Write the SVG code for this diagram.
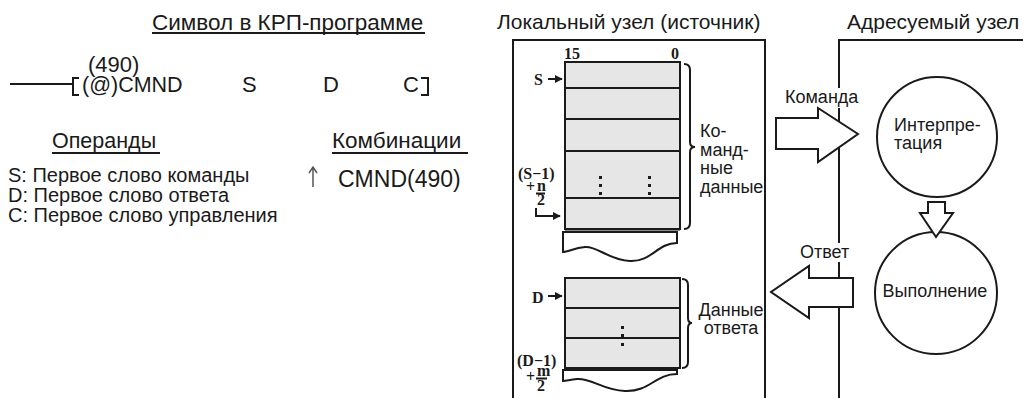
<svg xmlns="http://www.w3.org/2000/svg" width="1023" height="398" viewBox="0 0 1023 398">
<style>
.t{font-family:"Liberation Sans",Arial,sans-serif;fill:#1a1a1a}
.h{font-size:21px}
.m{font-size:20px}
.s{font-size:18px}
.sf{font-family:"Liberation Serif","Times New Roman",serif;font-weight:bold;fill:#1a1a1a;font-size:16px}
.ln{stroke:#1a1a1a;stroke-width:2;fill:none}
.cell{fill:#e6e6e6;stroke:#1a1a1a;stroke-width:2}
.torn{fill:#fff;stroke:#1a1a1a;stroke-width:2}
.blk{fill:#fff;stroke:#1a1a1a;stroke-width:2;stroke-linejoin:miter}
.dot{fill:#1a1a1a}
</style>
<defs>
<marker id="ah" viewBox="0 0 10 10" refX="9" refY="5" markerWidth="4" markerHeight="4" orient="auto" markerUnits="strokeWidth">
<path d="M0,0 L10,5 L0,10 Z" fill="#1a1a1a"/>
</marker>
</defs>
<rect width="1023" height="398" fill="#fff"/>

<g id="ladder-symbol">
<text class="t" font-size="22.5" x="152" y="30">Символ в КРП-программе</text>
<line class="ln" x1="152" y1="33" x2="425" y2="33" stroke-width="1.5"/>
<text class="t" font-size="22" x="88" y="72">(490)</text>
<line class="ln" x1="10" y1="84" x2="72" y2="84"/>
<path class="ln" d="M79,78 H73 V95 H79" stroke-width="2.5"/>
<text class="t" font-size="21.5" x="82" y="92">(@)CMND</text>
<text class="t" font-size="22" x="242" y="92">S</text>
<text class="t" font-size="22" x="323" y="92">D</text>
<text class="t" font-size="22" x="403" y="92">C</text>
<path class="ln" d="M421,78 H428 V95 H421" stroke-width="2.5"/>
</g>

<g id="operands">
<text class="t" font-size="21.5" x="52" y="148">Операнды</text>
<line class="ln" x1="52" y1="153" x2="160" y2="153" stroke-width="1.5"/>
<text class="t m" x="8" y="182">S: Первое слово команды</text>
<text class="t m" x="8" y="202">D: Первое слово ответа</text>
<text class="t m" x="8" y="222">C: Первое слово управления</text>
</g>

<g id="combinations">
<text class="t" font-size="22.5" x="332" y="148">Комбинации</text>
<line class="ln" x1="332" y1="153" x2="468" y2="153" stroke-width="1.5"/>
<path d="M313,187 V168 M309,173 L313,167 L317,173" fill="none" stroke="#555" stroke-width="1.5"/>
<text class="t" font-size="23" x="338" y="187">CMND(490)</text>
</g>

<g id="local-node">
<text class="t h" x="497" y="29">Локальный узел (источник)</text>
<path class="ln" d="M513,398 V40 H765 V398"/>
</g>

<g id="command-data">
<text class="sf" x="564" y="59">15</text>
<text class="sf" x="671" y="59">0</text>
<rect class="cell" x="565" y="62" width="115" height="26"/>
<rect class="cell" x="565" y="88" width="115" height="31"/>
<rect class="cell" x="565" y="119" width="115" height="32"/>
<rect class="cell" x="565" y="151" width="115" height="47"/>
<rect class="cell" x="565" y="198" width="115" height="31"/>
<line class="ln" x1="565" y1="229.5" x2="680" y2="229.5" stroke-width="3"/>
<rect class="dot" x="599" y="176" width="3" height="3"/>
<rect class="dot" x="599" y="184" width="3" height="3"/>
<rect class="dot" x="599" y="192" width="3" height="3"/>
<rect class="dot" x="648" y="176" width="3" height="3"/>
<rect class="dot" x="648" y="184" width="3" height="3"/>
<rect class="dot" x="648" y="192" width="3" height="3"/>
<path class="torn" d="M563,232 H677 V243 C657,243 652,262 630,261 C608,260 598,246 585,247 C574,248 568,252 563,252 Z"/>
<text class="sf" x="534" y="85">S</text>
<line class="ln" x1="548" y1="79" x2="562" y2="79" marker-end="url(#ah)"/>
<text class="sf" font-size="15" x="518" y="179">(S−1)</text>
<text class="sf" font-size="10" x="526" y="192">+</text>
<text class="sf" font-size="10" x="537" y="191">n</text>
<line class="ln" x1="536" y1="193.5" x2="545" y2="193.5" stroke-width="1.2"/>
<text class="sf" font-size="12" x="537" y="205">2</text>
<path class="ln" d="M536,208 V216 H560" marker-end="url(#ah)"/>
<path class="ln" d="M684,64 Q690,64 690,70 V142 Q690,147 695,147 Q690,147 690,152 V223 Q690,229 684,229" stroke-width="1.8"/>
<text class="t s" x="700" y="137">Ко-</text>
<text class="t s" x="700" y="156">манд-</text>
<text class="t s" x="700" y="174">ные</text>
<text class="t s" x="700" y="193">данные</text>
</g>

<g id="response-data">
<rect class="cell" x="565" y="278" width="115" height="30"/>
<rect class="cell" x="565" y="308" width="115" height="30"/>
<rect class="cell" x="565" y="338" width="115" height="30"/>
<rect class="dot" x="621" y="326" width="3" height="3"/>
<rect class="dot" x="621" y="334" width="3" height="3"/>
<rect class="dot" x="621" y="343" width="3" height="3"/>
<path class="torn" d="M563,370 H677 V374 C655,374 650,392 625,391 C602,390 592,378 577,379 C569,380 566,381 563,381 Z"/>
<text class="sf" x="532" y="303">D</text>
<line class="ln" x1="548" y1="296" x2="562" y2="296" marker-end="url(#ah)"/>
<text class="sf" font-size="15" x="517" y="366">(D−1)</text>
<text class="sf" font-size="10" x="526" y="382">+</text>
<text class="sf" font-size="10" x="537" y="376">m</text>
<line class="ln" x1="536" y1="378.5" x2="547" y2="378.5" stroke-width="1.2"/>
<text class="sf" font-size="12" x="537" y="391">2</text>
<path class="ln" d="M682,279 Q688,279 688,285 V318 Q688,323 692,323 Q688,323 688,328 V362 Q688,368 682,368" stroke-width="1.8"/>
<text class="t s" x="731" y="316" text-anchor="middle">Данные</text>
<text class="t s" x="731" y="334" text-anchor="middle">ответа</text>
</g>

<g id="addressed-node">
<text class="t h" x="847" y="29">Адресуемый узел</text>
<path class="ln" d="M839,398 V40 H1023"/>
</g>

<g id="interpretation">
<circle class="ln" cx="937" cy="137" r="60"/>
<text class="t s" x="894" y="131">Интерпре-</text>
<text class="t s" x="894" y="149">тация</text>
</g>

<g id="execution">
<circle class="ln" cx="936" cy="293" r="61"/>
<text class="t s" x="935" y="297" text-anchor="middle">Выполнение</text>
</g>

<g id="connectors">
<rect x="784" y="88" width="74" height="20" fill="#fff"/>
<text class="t s" x="785" y="103">Команда</text>
<path class="blk" d="M776,118 H818 V108 L858,134 L818,162 V149 H776 Z"/>
<rect x="799" y="243" width="50" height="19" fill="#fff"/>
<text class="t s" x="800" y="258">Ответ</text>
<path class="blk" d="M853,278 H809 V266 L771,292 L809,318 V307 H853 Z"/>
<path class="blk" d="M928,202 H945 V213 H953 L936,237 L920,213 H928 Z"/>
</g>
</svg>
